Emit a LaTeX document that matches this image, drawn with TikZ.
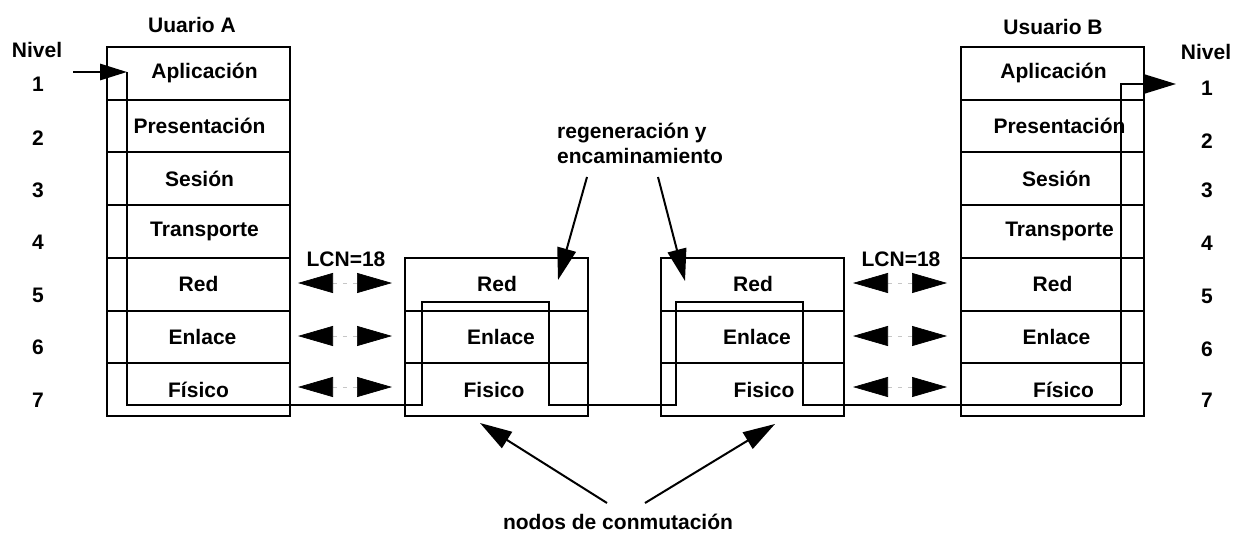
\documentclass[tikz,border=0pt]{standalone}
\usepackage{fontspec}
\setmainfont{Liberation Sans}
\usetikzlibrary{arrows.meta}

\begin{document}
\begin{tikzpicture}[x=1pt,y=-1pt,
  layer/.style={draw, line width=2pt, minimum width=183pt, minimum height=52.7pt, inner sep=0pt},
  txt/.style={font=\fontsize{21}{25}\selectfont\bfseries, inner sep=0pt},
  datapath/.style={line width=2pt, line join=miter},
  tip/.style={-{Triangle[length=#1, width=0.6*#1]}},
  peer/.style={line width=0.7pt, gray!45, dash pattern=on 4pt off 6pt,
    {Triangle[length=35pt,width=20pt,color=black]}-{Triangle[length=35pt,width=20pt,color=black]}},
  callout/.style={line width=2pt, -{Triangle[length=32pt,width=19pt]}}]

\fill[white] (0,0) rectangle (1233,535);
\useasboundingbox (0,0) rectangle (1233,535);

% end-system stacks (seven layers each)
\foreach \i/\t/\dx in {1/Aplicación/6, 2/Presentación/1, 3/Sesión/1, 4/Transporte/6,
                       5/Red/0, 6/Enlace/4, 7/Físico/0} {
  \node[layer] (A\i) at (198.5, {47+52.71*(\i-0.5)}) {};
  \node[txt] (tA\i) at ([xshift=\dx pt]A\i.center) {\t};
}
\foreach \i/\t/\dx in {1/Aplicación/1, 2/Presentación/7, 3/Sesión/4, 4/Transporte/7,
                       5/Red/0, 6/Enlace/4, 7/Físico/11} {
  \node[layer] (B\i) at (1052.5, {47+52.71*(\i-0.5)}) {};
  \node[txt] (tB\i) at ([xshift=\dx pt]B\i.center) {\t};
}

% switching nodes (three lower layers)
\foreach \i/\t/\dx in {5/Red/1, 6/Enlace/5, 7/Fisico/-2} {
  \node[layer] (M\i) at (496, {47+52.71*(\i-0.5)}) {};
  \node[txt] (tM\i) at ([xshift=\dx pt]M\i.center) {\t};
}
\foreach \i/\t/\dx in {5/Red/1, 6/Enlace/5, 7/Fisico/12} {
  \node[layer] (N\i) at (752, {47+52.71*(\i-0.5)}) {};
  \node[txt] (tN\i) at ([xshift=\dx pt]N\i.center) {\t};
}

% headings and level numbers
\node[txt] (ua) at (192,25) {Uuario A};
\node[txt] (ub) at (1053,27) {Usuario B};
\node[txt] (nivL) at (37,50) {Nivel};
\node[txt] (nivR) at (1206,52) {Nivel};
\foreach \n/\y in {1/84, 2/138, 3/190, 4/242, 5/295, 6/347, 7/400}
  \node[txt] (lvL\n) at (38,\y) {\n};
\foreach \n/\y in {1/88, 2/141, 3/190, 4/243, 5/296, 6/349, 7/400}
  \node[txt] (lvR\n) at (1207,\y) {\n};

% path of the data through the network
\coordinate (inA)  at (73,72);
\coordinate (topA) at (127,72);
\coordinate (botA) at (127,405);
\coordinate (topB) at (1121,84);
\coordinate (botB) at (1121,405);
\coordinate (outB) at (1176,84);
\draw[line width=2.4pt, tip=27pt] (inA) -- (topA);
\draw[datapath] (topA) -- (botA)
  -- (422,405) -- (422,302) -- (549,302) -- (549,405)
  -- (676,405) -- (676,302) -- (803,302) -- (803,405)
  -- (botB);
\draw[datapath, tip=31pt] (botB) -- (topB) -- (outB);

% peer-to-peer exchanges between adjacent systems
\node[txt] (lcnL) at (346,259) {LCN=18};
\node[txt] (lcnR) at (901,259) {LCN=18};
\foreach \y [count=\k] in {283, 336, 387} {
  \coordinate (pl\k) at (298,\y);
  \coordinate (pr\k) at (392,\y);
  \coordinate (ql\k) at (853,\y);
  \coordinate (qr\k) at (947,\y);
  \draw[peer] (pl\k) -- (pr\k);
  \draw[peer] (ql\k) -- (qr\k);
}

% callouts
\node[txt, align=left, anchor=west] (regen) at (557,143)
  {regeneración y\\encaminamiento};
\coordinate (r1) at (587,177);
\coordinate (r2) at (658,177);
\draw[callout] (r1) -- (558,280);
\draw[callout] (r2) -- (685,281);

\node[txt] (nodos) at (618,522) {nodos de conmutación};
\coordinate (c1) at (607,503);
\coordinate (c2) at (645,503);
\draw[callout] (c1) -- (480,423);
\draw[callout] (c2) -- (775,424);
\end{tikzpicture}
\end{document}
